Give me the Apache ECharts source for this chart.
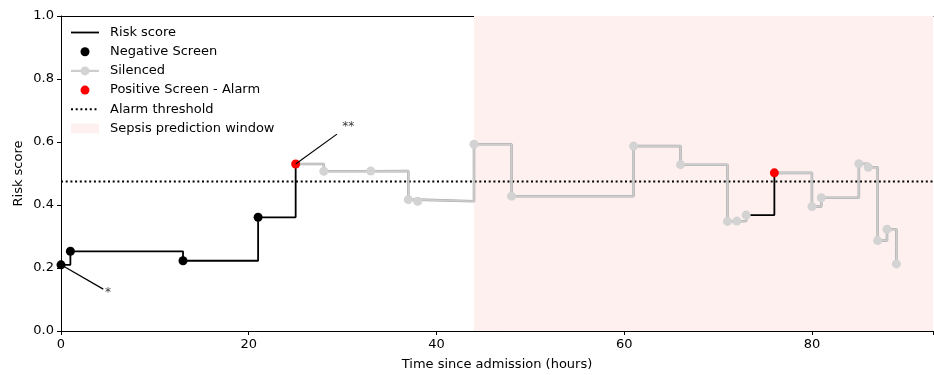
<!DOCTYPE html>
<html><head><meta charset="utf-8">
<script src="https://cdn.jsdelivr.net/npm/echarts@6/dist/echarts.min.js"></script>
<style>html,body{margin:0;padding:0;background:#fff}#c{width:934px;height:375px}</style>
</head><body><div id="c"></div>
<script>
const hours = [0,1,13,21,25,28,33,37,38,44,48,61,66,71,72,73,76,80,81,85,86,87,88,89];
const risk = [0.210,0.253,0.223,0.361,0.530,0.507,0.508,0.417,0.412,0.593,0.428,0.587,0.528,0.348,0.349,0.368,0.502,0.395,0.423,0.531,0.520,0.287,0.323,0.213];
const status = ['N','N','N','N','A','S','S','S','S','S','S','S','S','S','S','S','A','S','S','S','S','S','S','S'];
const threshold = 0.475;
const windowStart = 44;
const xMax = 92.9;
const xTicks = [0,20,40,60,80];
const yTicks = [0,0.2,0.4,0.6,0.8,1.0];
const legendNames = ['Risk score','Negative Screen','Silenced','Positive Screen - Alarm','Alarm threshold','Sepsis prediction window'];
const annoText = ['*','**'];
const annoPointIdx = [0,4];
const annoLineEnd = [[4.5,0.133],[29.4,0.625]];
const annoTextPos = [[5.0,0.122],[30.6,0.648]];

const FONT = 'DejaVu Sans';
const FS = 13;
const PINK = '#fdf0ef';
const GRAYDOT = '#d3d3d3';
function runs(isGray){
  const res=[]; let cur=null;
  for(let i=1;i<hours.length;i++){
    const g = status[i]==='S';
    if(g===isGray){
      if(!cur){cur=[i-1]; res.push(cur);}
      cur.push(i);
    } else cur=null;
  }
  return res;
}
const series=[];
series.push({name:'Sepsis prediction window',type:'line',data:[],z:0,
  markArea:{silent:true,itemStyle:{color:PINK,opacity:1},data:[[{xAxis:windowStart},{xAxis:xMax}]]}});
series.push({name:'Alarm threshold',type:'line',symbol:'none',z:3,
  data:[[0,threshold],[xMax,threshold]],
  lineStyle:{color:'#000',width:2,type:[2,2.7]}});
runs(false).forEach(r=>{
  series.push({name:'Risk score',type:'line',step:'end',symbol:'none',z:4,
    data:r.map(i=>[hours[i],risk[i]]),
    lineStyle:{color:'#000',width:1.8}});
});
runs(true).forEach(r=>{
  const d=r.map(i=>[hours[i],risk[i]]);
  series.push({name:'Silenced edge',type:'line',step:'end',symbol:'none',z:4,
    data:d,lineStyle:{color:'#a9a9a9',width:2.6}});
  series.push({name:'Silenced',type:'line',step:'end',symbol:'none',z:4,
    data:d,lineStyle:{color:'#cdcdcd',width:1.6}});
});
function pts(code){
  return hours.map((h,i)=>[h,risk[i],status[i]]).filter(d=>d[2]===code).map(d=>[d[0],d[1]]);
}
series.push({name:'Silenced markers',type:'scatter',symbol:'circle',symbolSize:9,z:6,
  data:pts('S'),itemStyle:{color:GRAYDOT,opacity:1}});
series.push({name:'Negative Screen',type:'scatter',symbol:'circle',symbolSize:9,z:6,
  data:pts('N'),itemStyle:{color:'#000',opacity:1}});
series.push({name:'Positive Screen - Alarm',type:'scatter',symbol:'circle',symbolSize:9,z:7,
  data:pts('A'),itemStyle:{color:'#ff0000',opacity:1}});
annoText.forEach((t,k)=>{
  const p=annoPointIdx[k];
  series.push({name:'anno'+k,type:'line',symbol:'none',z:8,silent:true,
    data:[[hours[p],risk[p]],annoLineEnd[k]],lineStyle:{color:'#000',width:1.2}});
  series.push({name:'annotext'+k,type:'scatter',symbolSize:0,z:8,silent:true,
    data:[annoTextPos[k]],
    label:{show:true,position:'inside',formatter:()=>t,fontFamily:FONT,fontSize:12,color:'#000'}});
});

// legend drawn as graphic (matplotlib-style handles)
const LX=71, LW=28, LTX=110, LY0=32.5, LDY=19.2;
const lg=[];
legendNames.forEach((name,k)=>{
  const y=LY0+k*LDY;
  if(k===0) lg.push({type:'line',shape:{x1:LX,y1:y,x2:LX+LW,y2:y},style:{stroke:'#000',lineWidth:1.8}});
  if(k===1) lg.push({type:'circle',shape:{cx:LX+LW/2,cy:y,r:4.5},style:{fill:'#000'}});
  if(k===2){
    lg.push({type:'line',shape:{x1:LX,y1:y,x2:LX+LW,y2:y},style:{stroke:'#cdcdcd',lineWidth:2.2}});
    lg.push({type:'circle',shape:{cx:LX+LW/2,cy:y,r:4.5},style:{fill:GRAYDOT}});
  }
  if(k===3) lg.push({type:'circle',shape:{cx:LX+LW/2,cy:y,r:4.5},style:{fill:'#ff0000'}});
  if(k===4) lg.push({type:'line',shape:{x1:LX,y1:y,x2:LX+LW,y2:y},style:{stroke:'#000',lineWidth:2,lineDash:[2,2.7]}});
  if(k===5) lg.push({type:'rect',shape:{x:LX,y:y-5,width:LW,height:10},style:{fill:PINK}});
  lg.push({type:'text',x:LTX,y:y,style:{text:name,fontFamily:FONT,fontSize:FS,fill:'#000',verticalAlign:'middle',align:'left'}});
});

const chart=echarts.init(document.getElementById('c'),null,{renderer:'canvas'});
chart.setOption({
  animation:false,
  backgroundColor:'#fff',
  grid:{left:61,right:1,top:16,bottom:44,outerBoundsMode:'none',containLabel:false},
  legend:{show:false},
  graphic:[{type:'group',z:100,children:lg}],
  xAxis:[{type:'value',min:0,max:xMax,interval:20,position:'bottom',
    name:'Time since admission (hours)',nameLocation:'middle',nameGap:27,
    nameTextStyle:{fontFamily:FONT,fontSize:FS,color:'#000'},
    axisLine:{show:true,lineStyle:{color:'#000',width:1}},
    axisTick:{show:true,length:4,lineStyle:{color:'#000'}},
    axisLabel:{fontFamily:FONT,fontSize:FS,color:'#000',margin:7,
      formatter:v=>xTicks.includes(v)?String(v):''},
    splitLine:{show:false}},
   {type:'value',min:0,max:xMax,position:'top',
    axisLine:{show:true,onZero:false,lineStyle:{color:'#000',width:1}},
    axisTick:{show:false},axisLabel:{show:false},splitLine:{show:false}}],
  yAxis:{type:'value',min:0,max:1,interval:0.2,
    name:'Risk score',nameLocation:'middle',nameGap:36,nameRotate:90,nameMoveOverlap:false,
    nameTextStyle:{fontFamily:FONT,fontSize:FS,color:'#000'},
    axisLine:{show:true,lineStyle:{color:'#000',width:1}},
    axisTick:{show:true,length:4,lineStyle:{color:'#000'}},
    axisLabel:{fontFamily:FONT,fontSize:FS,color:'#000',margin:7,
      formatter:v=>yTicks.some(t=>Math.abs(t-v)<1e-9)?v.toFixed(1):''},
    splitLine:{show:false}},
  series:series
});
</script></body></html>
